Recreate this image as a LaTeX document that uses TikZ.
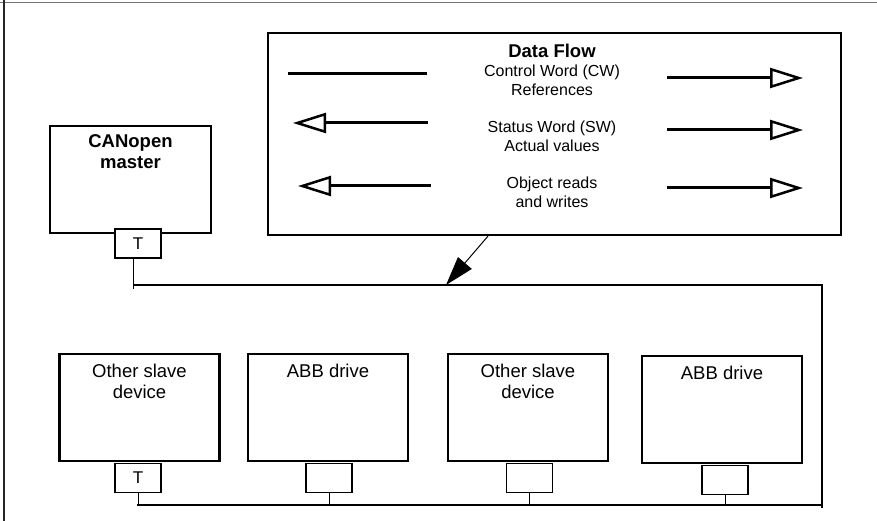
\documentclass[tikz,border=0pt]{standalone}
\usepackage{fontspec}
\setmainfont{Liberation Sans}
\usetikzlibrary{arrows.meta,positioning}
\tikzset{
  unit/.style={draw,line width=2.2pt,fill=white,inner sep=0pt},
  port/.style={draw,line width=1.6pt,fill=white,inner sep=0pt,
               minimum width=46pt,minimum height=29pt,
               font=\fontsize{17}{19}\selectfont},
  lbl/.style={inner sep=0pt,align=center,font=\fontsize{16}{19}\selectfont},
  devlbl/.style={inner sep=0pt,align=center,font=\fontsize{18.5}{21}\selectfont},
  head/.style={inner sep=0pt,align=center,font=\bfseries\fontsize{18.5}{21}\selectfont},
  bus/.style={line width=2pt},
  drop/.style={line width=1pt},
  legline/.style={line width=3pt},
  flow/.style={line width=3pt,
               -{Triangle[open,length=33pt,width=20pt,line width=2.5pt]}},
  pointer/.style={line width=1pt,-{Triangle[length=29pt,width=18pt]}},
}
\begin{document}
\begin{tikzpicture}[x=1pt,y=-1pt]
  \useasboundingbox (0,0) rectangle (877,521);
  % page frame (top and left edges only)
  \draw[black!55,line width=1.5pt] (0,2.5) -- (877,2.5);
  \draw[black!85,line width=1.5pt] (4,0) -- (4,521);

  % legend box
  \node[unit,minimum width=573pt,minimum height=202pt] (flowbox) at (554.5,134) {};
  \node[head] (dftitle) at (552,51) {Data Flow};
  \node[lbl] (cwtxt) at (552,80) {Control Word (CW)\\References};
  \node[lbl] (swtxt) at (552,136.5) {Status Word (SW)\\Actual values};
  \node[lbl] (objtxt) at (552,192.5) {Object reads\\and writes};
  \draw[legline] (288,74) -- (427,74);
  \draw[flow] (667,78) -- (803,78);
  \draw[flow] (428,123) -- (293,123);
  \draw[flow] (667,130) -- (803,130);
  \draw[flow] (431,186) -- (298,186);
  \draw[flow] (667,188) -- (803,188);

  % master
  \node[unit,minimum width=161pt,minimum height=107pt] (master) at (130.5,179.5) {};
  \node[head,below=9pt of master.north] (mtxt) {CANopen\\master};
  \node[port] (mport) at (138,243.5) {T};

  % upper bus
  \coordinate (mend) at (133,289);
  \coordinate (busTL) at (133,285);
  \coordinate (tap) at (446,285);
  \coordinate (busTR) at (822,285);
  \coordinate (busBR) at (822,508);
  \draw[drop] (mport.south -| mend) -- (mend);
  \draw[bus] (busTL) -- (tap) -- (busTR) -- (busBR);
  \draw[pointer] ([xshift=-66.5pt]flowbox.south) -- (tap);

  % slaves on the lower bus
  \coordinate (busBL) at (137,505);
  \draw[bus] (busBL) -- (busBR |- busBL);
  \foreach \nm/\cx/\cy/\px/\pt/\txt in {
      s1/139.5/407.5/138/T/{Other slave\\device},
      d1/328/407.5/329//{ABB drive},
      s2/528/407.5/529.5//{Other slave\\device},
      d2/722/409.5/725//{ABB drive}}{
    \node[unit,minimum width=160pt,minimum height=107pt] (\nm) at (\cx,\cy) {};
    \node[devlbl,below=11pt of \nm.north] (\nm txt) {\txt};
    \node[port,anchor=north] (\nm port) at (\px,{\cy+55}) {\pt};
    \draw[drop] (\nm port.south) -- (\nm port.south |- busBL);
  }
\end{tikzpicture}
\end{document}
